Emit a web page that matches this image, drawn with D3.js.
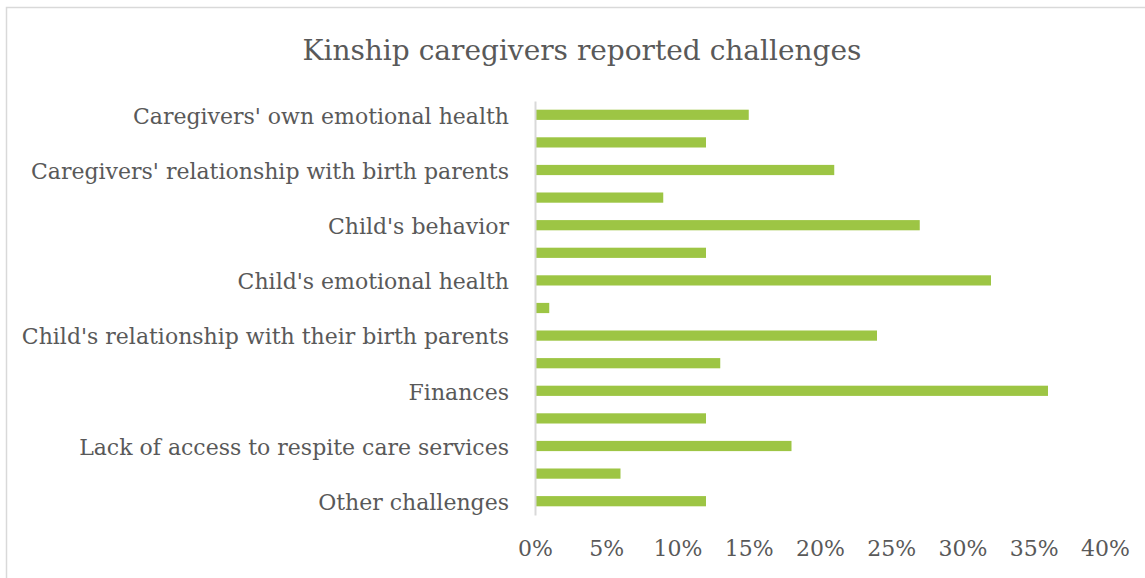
<!DOCTYPE html>
<html>
<head>
<meta charset="utf-8">
<script src="https://cdn.jsdelivr.net/npm/d3@7"></script>
<style>
  body { margin: 0; background: #fff; }
  svg { display: block; }
  text { font-family: 'DejaVu Serif', serif; fill: #595959; }
</style>
</head>
<body>
<div id="chart"></div>
<script>
// Category labels (only every other one is shown in the original chart)
const categories = [
    "Caregivers' own emotional health", "",
    "Caregivers' relationship with birth parents", "",
    "Child's behavior", "",
    "Child's emotional health", "",
    "Child's relationship with their birth parents", "",
    "Finances", "",
    "Lack of access to respite care services", "",
    "Other challenges"
];

// Share of kinship caregivers reporting each challenge
const values = [0.15, 0.12, 0.21, 0.09, 0.27, 0.12, 0.32, 0.01, 0.24, 0.13, 0.36, 0.12, 0.18, 0.06, 0.12];

const xTicks = [0, 0.05, 0.10, 0.15, 0.20, 0.25, 0.30, 0.35, 0.40];

const W = 1145, H = 578;
const margin = {top: 101, right: 40, bottom: 63, left: 535};
const width = W - margin.left - margin.right;
const height = H - margin.top - margin.bottom;

const root = d3.select("#chart").append("svg")
    .attr("width", W)
    .attr("height", H);

// Chart border
root.append("rect")
    .attr("x", 6.5)
    .attr("y", 7.5)
    .attr("width", W + 10)
    .attr("height", H + 10)
    .attr("fill", "none")
    .attr("stroke", "#d9d9d9")
    .attr("stroke-width", 1.5);

// Title
root.append("text")
    .attr("x", 582)
    .attr("y", 60)
    .attr("text-anchor", "middle")
    .attr("font-size", 28)
    .text("Kinship caregivers reported challenges");

const svg = root.append("g")
    .attr("transform", `translate(${margin.left},${margin.top})`);

const x = d3.scaleLinear()
    .domain([0, 0.4])
    .range([0, width]);

const y = d3.scaleBand()
    .domain(d3.range(categories.length))
    .range([0, height])
    .paddingInner(0.63)
    .paddingOuter(0.315);

// Bars
svg.selectAll(".bar")
    .data(values)
    .enter()
    .append("rect")
    .attr("class", "bar")
    .attr("x", x(0))
    .attr("y", (d, i) => y(i))
    .attr("width", d => x(d) - x(0))
    .attr("height", y.bandwidth())
    .attr("fill", "#9DC544");

// Category axis
const yAxis = svg.append("g")
    .call(d3.axisLeft(y).tickSize(0).tickPadding(26).tickFormat(i => categories[i]));
yAxis.attr("font-family", null);
yAxis.select(".domain").attr("stroke", "#d9d9d9").attr("stroke-width", 2);
yAxis.selectAll("text").attr("font-size", 22).attr("fill", null).attr("dy", "0.4em");

// Value axis (labels only)
const xAxis = svg.append("g")
    .attr("transform", `translate(0,${height})`)
    .call(d3.axisBottom(x).tickValues(xTicks).tickSize(0).tickPadding(25).tickFormat(d3.format(".0%")));
xAxis.attr("font-family", null);
xAxis.select(".domain").remove();
xAxis.selectAll("text").attr("font-size", 22).attr("fill", null);
</script>
</body>
</html>
